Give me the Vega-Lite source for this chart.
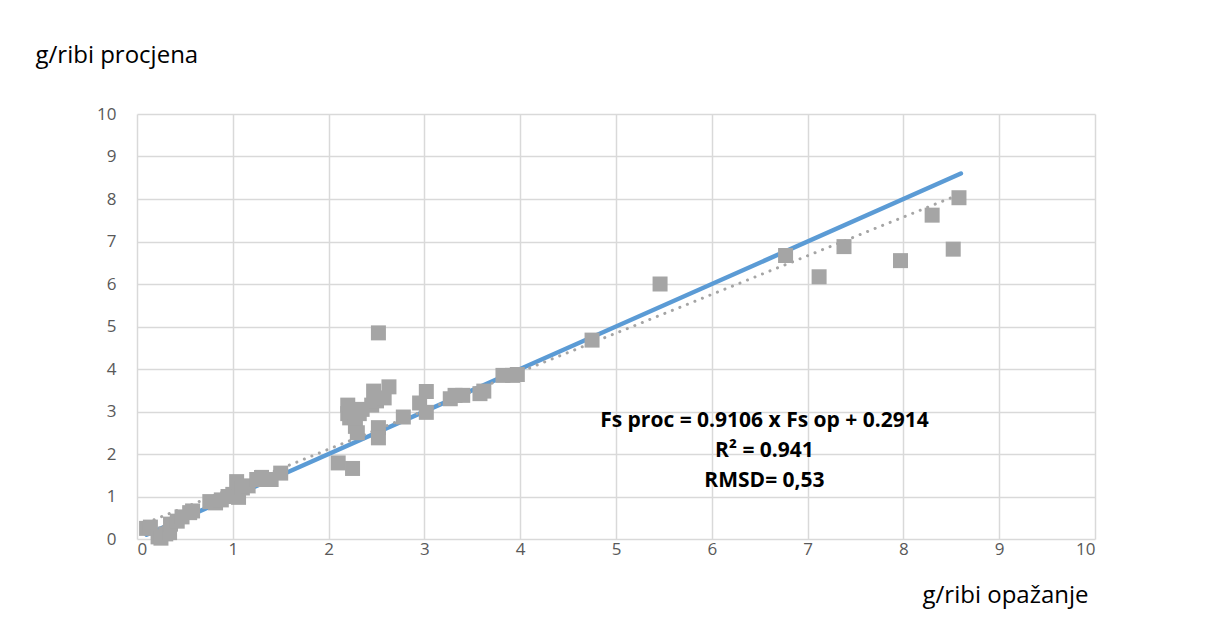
{
  "$schema": "https://vega.github.io/schema/vega-lite/v6.json",
  "autosize": "none",
  "width": 958,
  "height": 425,
  "padding": {"left": 137, "top": 114, "right": 117, "bottom": 87},
  "background": "white",
  "config": {
    "view": {"stroke": null},
    "font": "Open Sans",
    "axis": {
      "grid": true,
      "gridColor": "#D9D9D9",
      "gridWidth": 1.5,
      "ticks": false,
      "domain": false,
      "labelColor": "#595959",
      "labelFont": "Open Sans",
      "labelFontSize": 17,
      "titleFont": "Open Sans",
      "titleFontWeight": "normal",
      "titleColor": "#000000",
      "titleFontSize": 24
    }
  },
  "datasets": {
    "obs": [
      {"op": 0.10, "proc": 0.25}, {"op": 0.14, "proc": 0.28}, {"op": 0.22, "proc": 0.05},
      {"op": 0.25, "proc": 0.02}, {"op": 0.30, "proc": 0.12}, {"op": 0.34, "proc": 0.15},
      {"op": 0.35, "proc": 0.35}, {"op": 0.42, "proc": 0.42}, {"op": 0.47, "proc": 0.52},
      {"op": 0.55, "proc": 0.62}, {"op": 0.58, "proc": 0.66}, {"op": 0.76, "proc": 0.88},
      {"op": 0.82, "proc": 0.85}, {"op": 0.88, "proc": 0.92}, {"op": 0.95, "proc": 1.0},
      {"op": 1.0, "proc": 1.05}, {"op": 1.04, "proc": 1.35}, {"op": 1.06, "proc": 0.98},
      {"op": 1.10, "proc": 1.2}, {"op": 1.16, "proc": 1.25}, {"op": 1.25, "proc": 1.4},
      {"op": 1.30, "proc": 1.45}, {"op": 1.40, "proc": 1.40}, {"op": 1.50, "proc": 1.55},
      {"op": 2.10, "proc": 1.79}, {"op": 2.25, "proc": 1.66}, {"op": 2.20, "proc": 3.15},
      {"op": 2.20, "proc": 2.95}, {"op": 2.22, "proc": 2.85}, {"op": 2.28, "proc": 2.65},
      {"op": 2.30, "proc": 2.50}, {"op": 2.32, "proc": 2.95}, {"op": 2.35, "proc": 3.05},
      {"op": 2.45, "proc": 3.15}, {"op": 2.47, "proc": 3.48}, {"op": 2.50, "proc": 3.25},
      {"op": 2.52, "proc": 2.62}, {"op": 2.52, "proc": 2.38}, {"op": 2.52, "proc": 4.85},
      {"op": 2.58, "proc": 3.32}, {"op": 2.63, "proc": 3.58}, {"op": 2.78, "proc": 2.87},
      {"op": 2.95, "proc": 3.2}, {"op": 3.02, "proc": 3.47}, {"op": 3.02, "proc": 2.98},
      {"op": 3.27, "proc": 3.30}, {"op": 3.32, "proc": 3.38}, {"op": 3.40, "proc": 3.38},
      {"op": 3.58, "proc": 3.42}, {"op": 3.62, "proc": 3.48}, {"op": 3.82, "proc": 3.85},
      {"op": 3.92, "proc": 3.85}, {"op": 3.97, "proc": 3.87}, {"op": 4.75, "proc": 4.68},
      {"op": 5.46, "proc": 6.0}, {"op": 6.77, "proc": 6.67}, {"op": 7.12, "proc": 6.17},
      {"op": 7.38, "proc": 6.88}, {"op": 7.97, "proc": 6.55}, {"op": 8.30, "proc": 7.62},
      {"op": 8.52, "proc": 6.82}, {"op": 8.58, "proc": 8.03}
    ],
    "identity": [{"op": 0.1, "proc": 0.1}, {"op": 8.6, "proc": 8.6}],
    "trend": [{"op": 0.1, "proc": 0.382}, {"op": 8.6, "proc": 8.122}],
    "note": [{"label": "note"}]
  },
  "layer": [
    {
      "data": {"name": "identity"},
      "mark": {"type": "line", "color": "#5B9BD5", "strokeWidth": 4.5, "strokeCap": "round"},
      "encoding": {
        "x": {"field": "op", "type": "quantitative", "scale": {"domain": [0, 10], "nice": false},
          "axis": {"values": [0,1,2,3,4,5,6,7,8,9,10], "format": "d", "labelPadding": 2, "title": "g/ribi opažanje",
            "titleAnchor": "end", "titleAlign": "right", "titleX": 951, "titleY": 63, "titleBaseline": "alphabetic"}},
        "y": {"field": "proc", "type": "quantitative", "scale": {"domain": [0, 10], "nice": false},
          "axis": {"values": [0,1,2,3,4,5,6,7,8,9,10], "format": "d", "labelPadding": 21, "title": "g/ribi procjena",
            "titleAngle": 0, "titleAlign": "left", "titleX": -102, "titleY": -52, "titleBaseline": "alphabetic"}}
      }
    },
    {
      "data": {"name": "trend"},
      "mark": {"type": "line", "color": "#A5A5A5", "strokeWidth": 3, "strokeDash": [0.1, 8], "strokeCap": "round"},
      "encoding": {
        "x": {"field": "op", "type": "quantitative"},
        "y": {"field": "proc", "type": "quantitative"}
      }
    },
    {
      "data": {"name": "obs"},
      "mark": {"type": "point", "shape": "square", "filled": true, "size": 225, "color": "#A5A5A5", "opacity": 1},
      "encoding": {
        "x": {"field": "op", "type": "quantitative"},
        "y": {"field": "proc", "type": "quantitative"}
      }
    },
    {
      "data": {"name": "note"},
      "mark": {"type": "text", "font": "Open Sans", "fontWeight": "bold", "fontSize": 21, "color": "#000000",
        "align": "center", "baseline": "middle", "lineHeight": 30,
        "text": ["Fs proc = 0.9106 x Fs op + 0.2914", "R² = 0.941", "RMSD= 0,53"]},
      "encoding": {
        "x": {"datum": 6.55},
        "y": {"datum": 2.78}
      }
    }
  ]
}
